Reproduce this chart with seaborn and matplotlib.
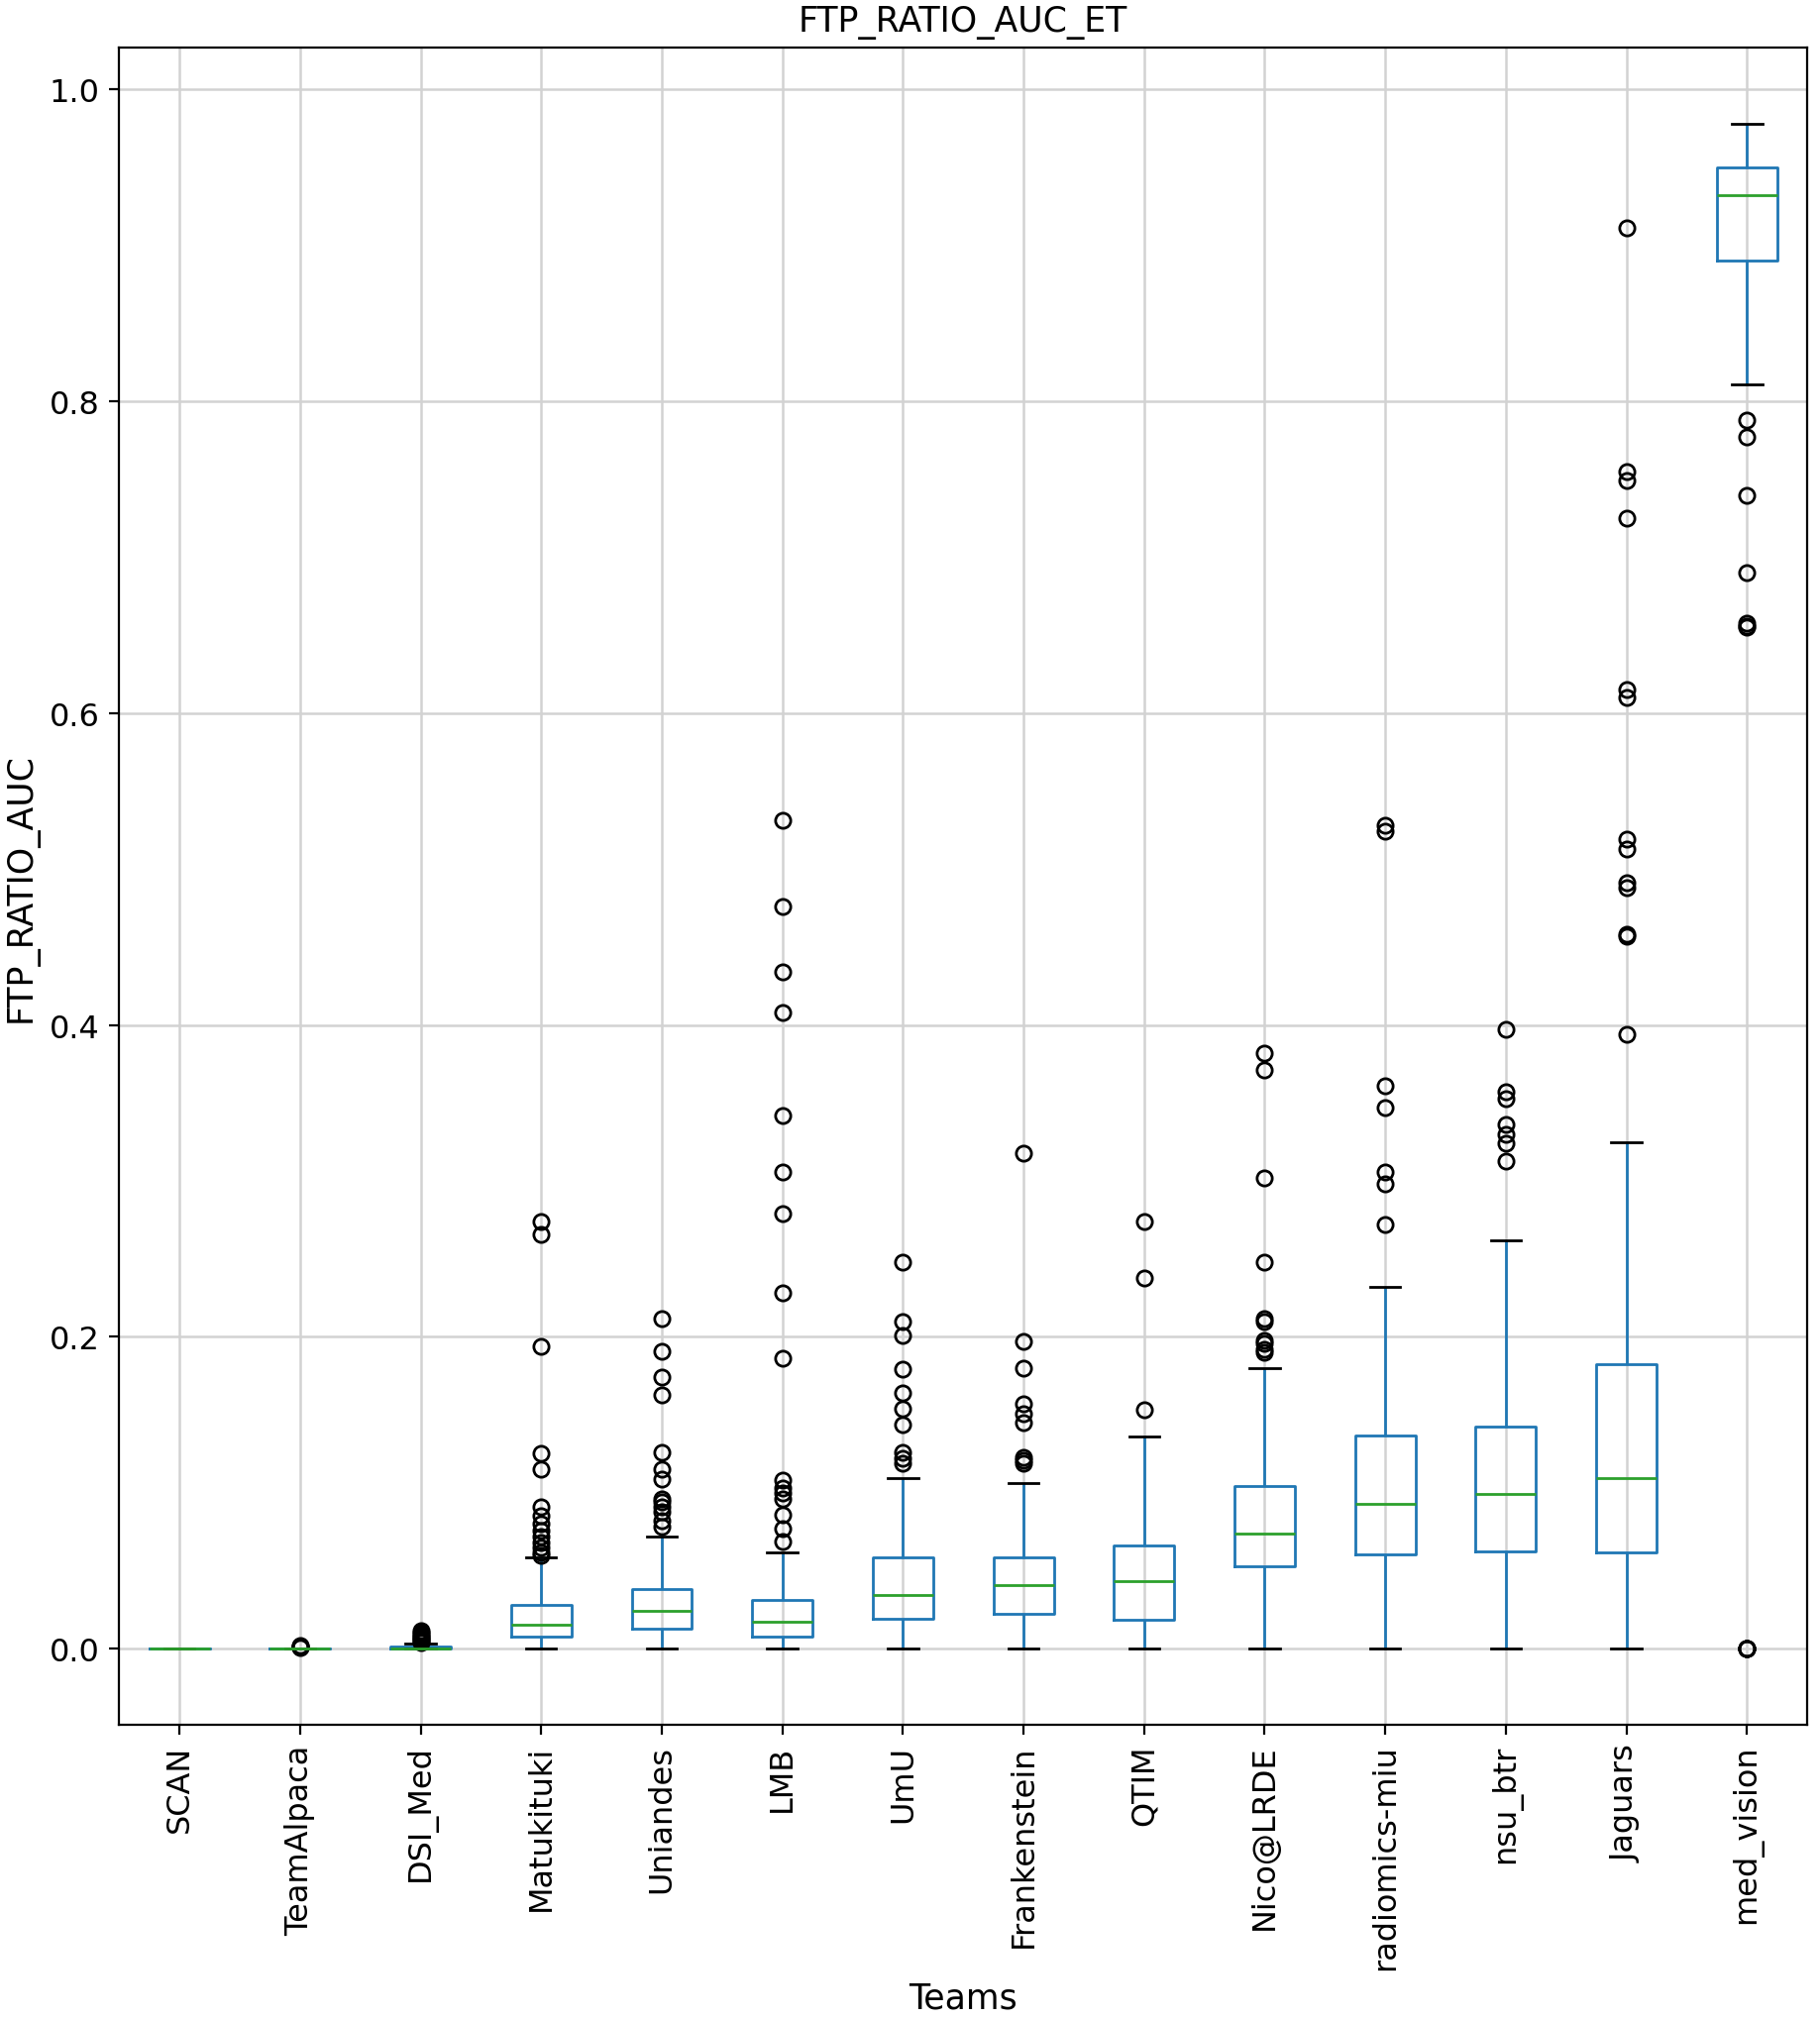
import pandas as pd
import seaborn as sns
import matplotlib.pyplot as plt

teams = ["SCAN", "TeamAlpaca", "DSI_Med", "Matukituki", "Uniandes", "LMB", "UmU",
         "Frankenstein", "QTIM", "Nico@LRDE", "radiomics-miu", "nsu_btr", "Jaguars", "med_vision"]

# box statistics
whisk_lo = [0, 0, 0, 0, 0, 0, 0, 0, 0, 0, 0, 0, 0, 0.811]
q1 = [0, 0, 0, 0.0075, 0.013, 0.0075, 0.0193, 0.0223, 0.0186, 0.0527, 0.0605, 0.0625, 0.0616, 0.890]
median = [0, 0, 0.0003, 0.0154, 0.024, 0.017, 0.0343, 0.0411, 0.0431, 0.0738, 0.0928, 0.0992, 0.1094, 0.932]
q3 = [0, 0, 0.0015, 0.028, 0.038, 0.0311, 0.0588, 0.0586, 0.066, 0.1045, 0.137, 0.1427, 0.1824, 0.950]
whisk_hi = [0, 0, 0.0035, 0.0587, 0.0719, 0.0615, 0.1094, 0.1065, 0.136, 0.1798, 0.232, 0.262, 0.3245, 0.978]

outliers = [
    [],
    [0.0008, 0.0012, 0.0015, 0.002],
    [0.004, 0.005, 0.006, 0.007, 0.008, 0.009, 0.0105, 0.0115],
    [0.274, 0.266, 0.194, 0.125, 0.115, 0.091, 0.085, 0.08, 0.076, 0.072, 0.068, 0.065, 0.062, 0.06],
    [0.212, 0.191, 0.174, 0.163, 0.126, 0.115, 0.109, 0.096, 0.094, 0.091, 0.088, 0.082, 0.078],
    [0.531, 0.476, 0.434, 0.408, 0.342, 0.306, 0.279, 0.228, 0.186, 0.108, 0.103, 0.1, 0.096, 0.086, 0.077, 0.069],
    [0.248, 0.21, 0.201, 0.179, 0.164, 0.154, 0.144, 0.126, 0.122, 0.119],
    [0.318, 0.197, 0.18, 0.157, 0.151, 0.145, 0.123, 0.121, 0.119],
    [0.274, 0.238, 0.153],
    [0.382, 0.371, 0.302, 0.248, 0.212, 0.21, 0.198, 0.196, 0.192, 0.19],
    [0.528, 0.524, 0.361, 0.347, 0.306, 0.298, 0.272],
    [0.397, 0.357, 0.353, 0.336, 0.33, 0.324, 0.313],
    [0.911, 0.755, 0.749, 0.725, 0.615, 0.61, 0.519, 0.513, 0.491, 0.488, 0.458, 0.457, 0.394],
    [0.788, 0.777, 0.74, 0.69, 0.6575, 0.656, 0.655, 0, 0, 0, 0],
]


def team_values(lo, a, m, b, hi, out):
    # sample whose quartiles / whiskers / fliers equal the read values
    low = [v for v in out if v < a]
    high = [v for v in out if v > b]
    k = 2 * (len(low) + len(high) + 1) + 3
    return (low + [lo] * (len(high) + 1) + [a] * k + [m] * k + [b] * k
            + [hi] * (len(low) + 1) + high)


rows = []
for i, t in enumerate(teams):
    for v in team_values(whisk_lo[i], q1[i], median[i], q3[i], whisk_hi[i], outliers[i]):
        rows.append((t, v))
df = pd.DataFrame(rows, columns=["team", "value"])

plt.rcParams['font.family'] = ['DejaVu Sans']
fig, ax = plt.subplots(figsize=(9.185, 10.2), dpi=200)
fig.subplots_adjust(left=0.0655, right=0.993, top=0.976, bottom=0.146)

sns.boxplot(data=df, x="team", y="value", order=teams, width=0.5, fill=False,
            linewidth=1, whis=1.5, ax=ax,
            boxprops=dict(color="#1f77b4"),
            whiskerprops=dict(color="#1f77b4"),
            capprops=dict(color="black"),
            medianprops=dict(color="#2ca02c"),
            flierprops=dict(marker="o", markerfacecolor="none",
                            markeredgecolor="black", markersize=5.5, markeredgewidth=1))

ax.grid(True, color="#d2d2d2", linewidth=0.9)
ax.set_axisbelow(True)
ax.set_title("FTP_RATIO_AUC_ET", fontsize=12.5)
ax.set_xlabel("Teams", fontsize=12.5)
ax.set_ylabel("FTP_RATIO_AUC", fontsize=12.5)
ax.tick_params(axis="x", labelrotation=90, labelsize=11.5)
ax.tick_params(axis="y", labelsize=11.5)

plt.savefig("out.png", dpi=200)
